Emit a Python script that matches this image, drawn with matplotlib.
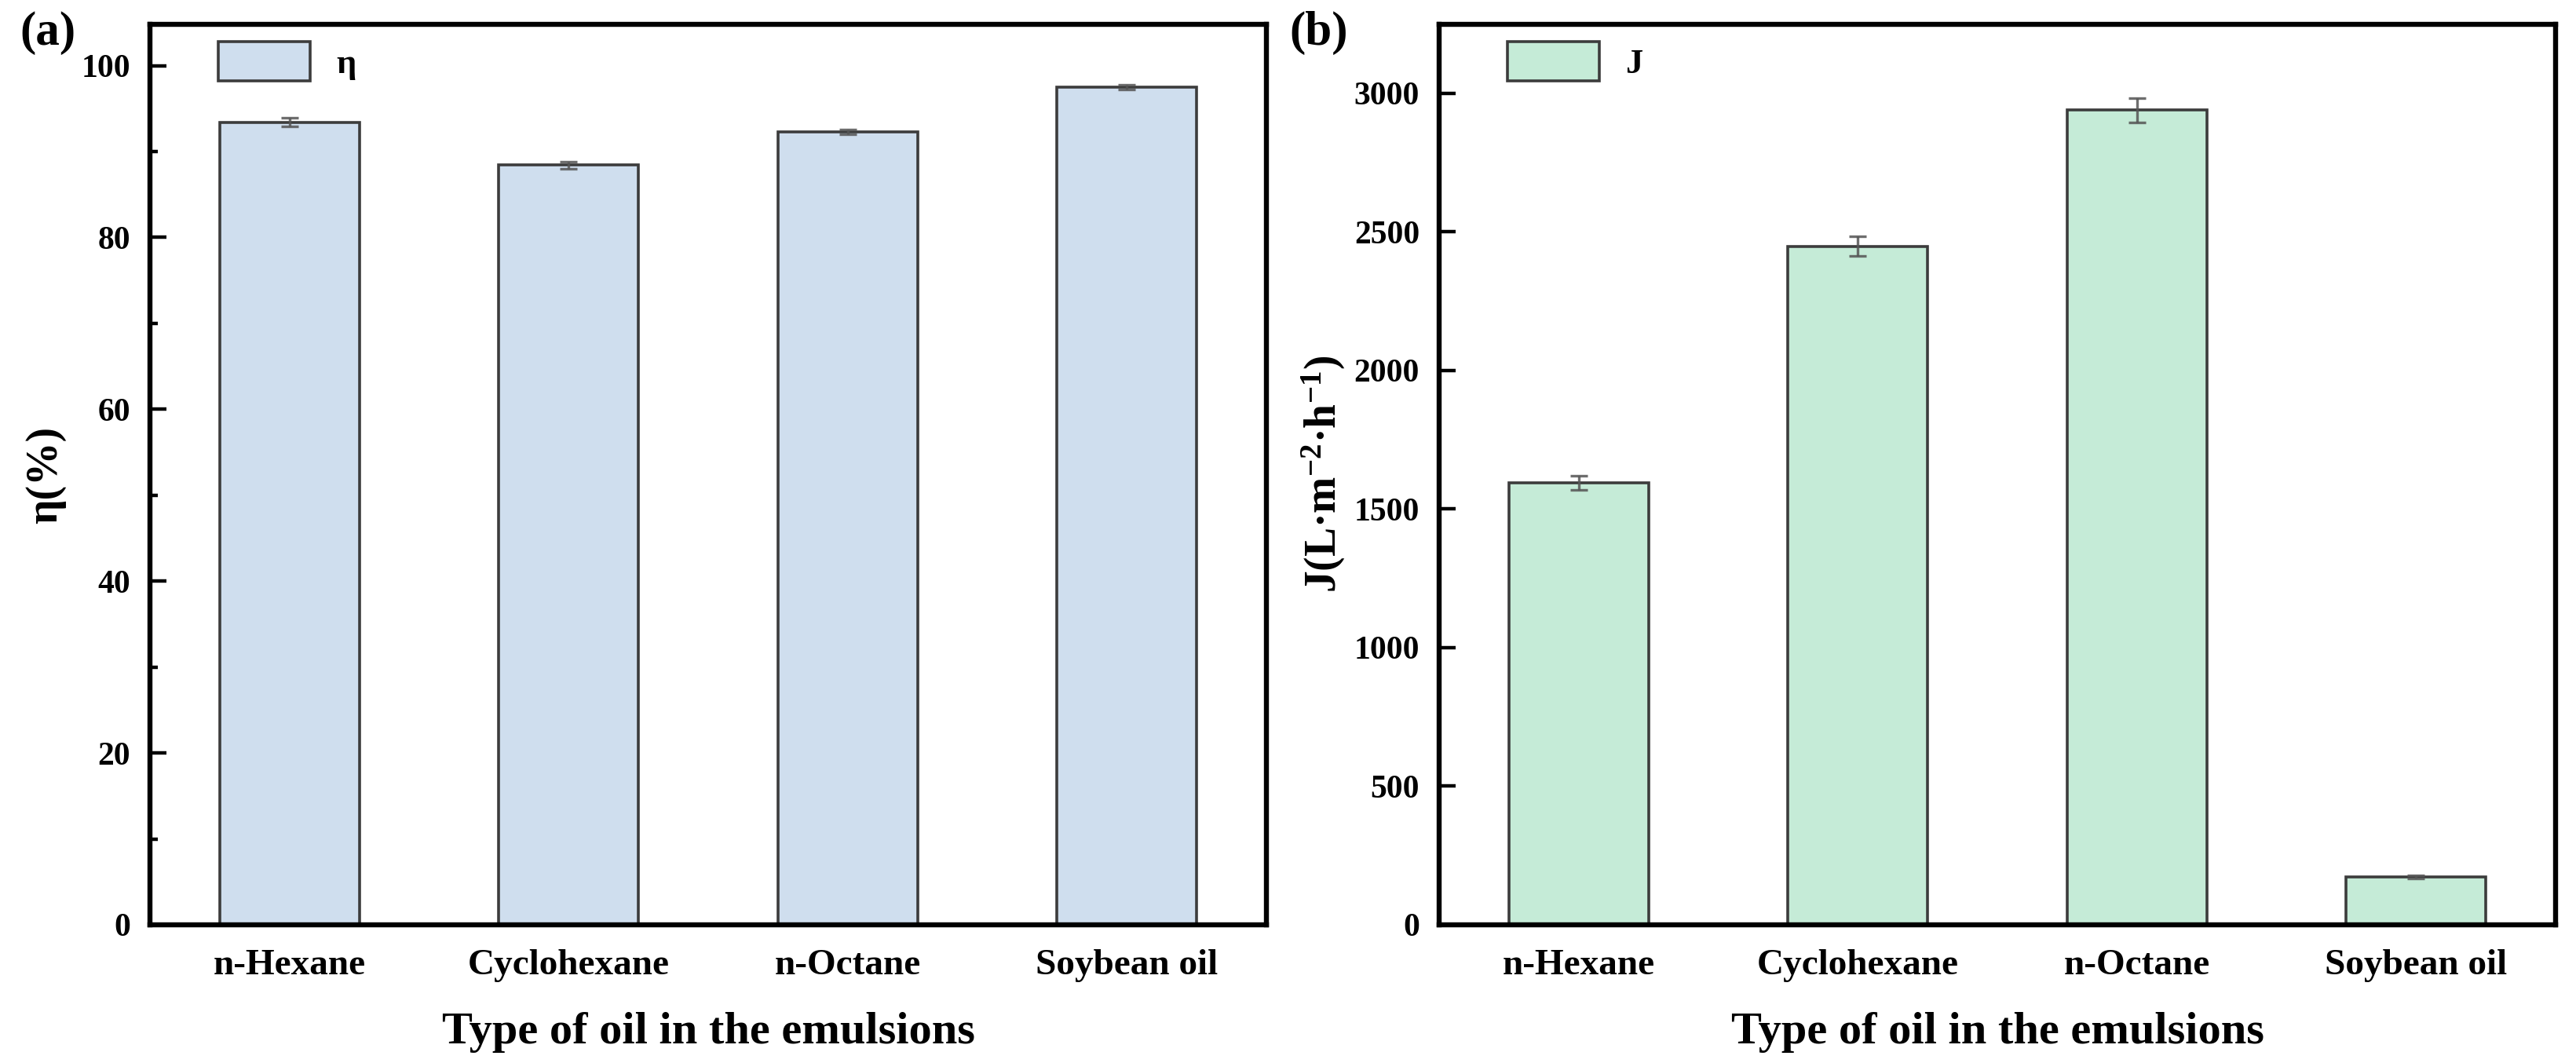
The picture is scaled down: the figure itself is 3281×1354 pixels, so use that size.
import matplotlib
matplotlib.use('Agg')
import matplotlib.pyplot as plt
import numpy as np

# data
oils = ['n-Hexane', 'Cyclohexane', 'n-Octane', 'Soybean oil']
eta = [93.4, 88.4, 92.3, 97.5]
eta_err = [0.5, 0.4, 0.3, 0.3]
flux = [1595, 2448, 2940, 173]
flux_err = [25, 35, 44, 5]

plt.rcParams['font.family'] = ['Liberation Serif', 'DejaVu Serif']
plt.rcParams['font.weight'] = 'bold'
plt.rcParams['axes.labelweight'] = 'bold'
plt.rcParams['mathtext.default'] = 'regular'

fig = plt.figure(figsize=(16.405, 6.77), dpi=200)
ax1 = fig.add_axes([0.0582, 0.13, 0.4334, 0.8471])
ax2 = fig.add_axes([0.5587, 0.13, 0.4334, 0.8471])

x = np.arange(1, len(oils) + 1)


def style_axis(ax, ylabel, minor):  # common look of both panels
    for sp in ax.spines.values():
        sp.set_linewidth(2.3)
        sp.set_color('black')
    ax.set_xlim(0.5, 4.5)
    ax.set_xticks(x)
    ax.set_xticklabels(oils, fontsize=17, fontweight='bold')
    ax.tick_params(axis='x', length=0, pad=11)
    ax.tick_params(axis='y', direction='in', length=7.5, width=1.6,
                   labelsize=15, pad=9, right=False)
    if minor:
        ax.set_yticks(np.arange(10, 101, 20), minor=True)
        ax.tick_params(axis='y', which='minor', direction='in', length=3.5, width=1.6)
    ax.set_xlabel('Type of oil in the emulsions', fontsize=21, fontweight='bold', labelpad=14)
    ax.set_ylabel(ylabel, fontsize=20, fontweight='bold')
    for lab in ax.get_yticklabels():
        lab.set_fontweight('bold')


err_kw = dict(ecolor='#555555', elinewidth=1.2, capsize=4, capthick=1.2, alpha=0.85)

ax1.bar(x, eta, 0.5, yerr=eta_err, color='#CFDEEE', edgecolor='#3c3c3c',
        linewidth=1.3, label='η', error_kw=err_kw)
ax1.set_ylim(0, 104.8)
ax1.set_yticks(np.arange(0, 101, 20))
style_axis(ax1, 'η(%)', True)
ax1.yaxis.set_label_coords(-0.075, 0.5)

ax2.bar(x, flux, 0.5, yerr=flux_err, color='#C5EBD7', edgecolor='#3c3c3c',
        linewidth=1.3, label='J', error_kw=err_kw)
ax2.set_ylim(0, 3249)
ax2.set_yticks(np.arange(0, 3001, 500))
style_axis(ax2, r'J(L·m$^{-2}$·h$^{-1}$)', False)
ax2.yaxis.set_label_coords(-0.082, 0.5)

for ax in (ax1, ax2):
    ax.legend(loc='upper left', bbox_to_anchor=(0.061, 0.981), frameon=False,
              borderpad=0, borderaxespad=0, handlelength=2.63, handleheight=1.35,
              handletextpad=0.75, prop={'size': 16, 'weight': 'bold'})

fig.text(0.0076, 0.99, '(a)', fontsize=22, fontweight='bold', va='top', ha='left')
fig.text(0.5005, 0.99, '(b)', fontsize=22, fontweight='bold', va='top', ha='left')

fig.savefig('out.png', dpi=200)
